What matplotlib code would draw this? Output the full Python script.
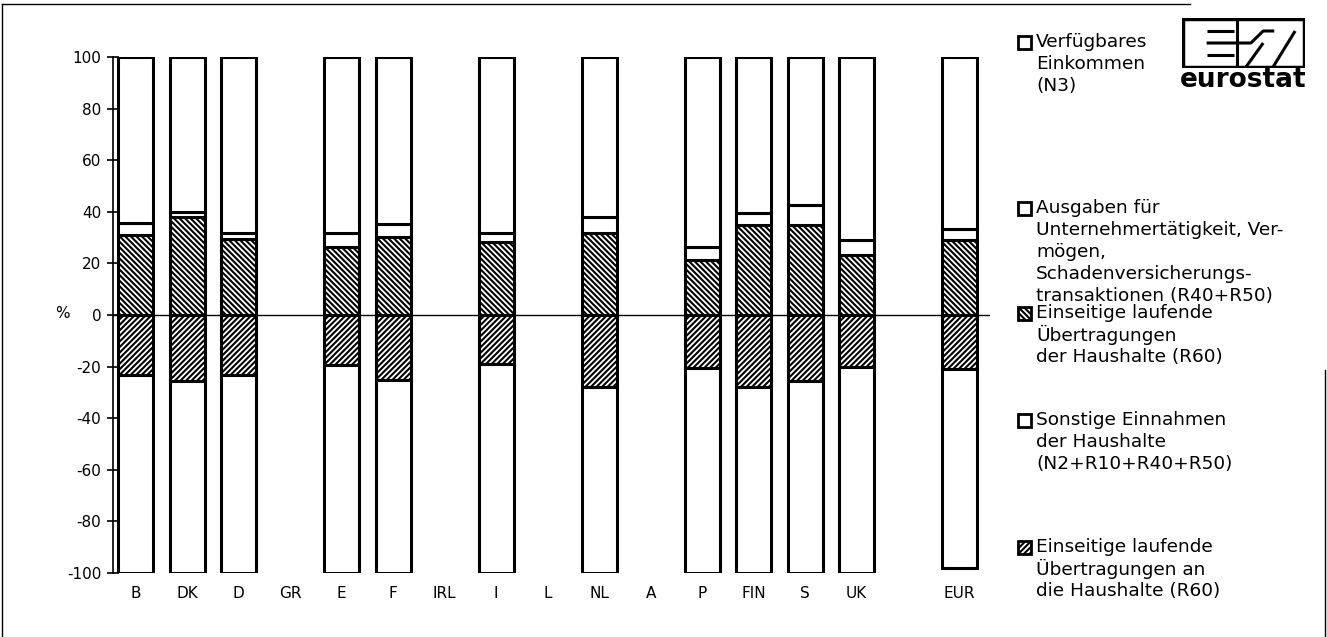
import numpy as np
import matplotlib
matplotlib.use("Agg")
import matplotlib.pyplot as plt
from matplotlib.patches import Rectangle
from matplotlib.lines import Line2D

# === Daten (Anteile in %) ===
countries = ["B", "DK", "D", "GR", "E", "F", "IRL", "I", "L", "NL", "A", "P", "FIN", "S", "UK", "EUR"]
slots = [0, 1, 2, 3, 4, 5, 6, 7, 8, 9, 10, 11, 12, 13, 14, 16]

nan = np.nan
# Verwendung (oben)
r60_paid = [31.0, 38.1, 29.3, nan, 26.5, 30.4, nan, 28.4, nan, 31.7, nan, 21.3, 34.9, 34.9, 23.3, 29.1]
r40_r50 = [4.5, 1.9, 2.6, nan, 5.2, 4.7, nan, 3.5, nan, 6.4, nan, 5.2, 4.5, 7.7, 5.8, 4.1]
n3 = [64.5, 60.0, 68.1, nan, 68.3, 64.9, nan, 68.1, nan, 61.9, nan, 73.5, 60.6, 57.4, 70.9, 66.8]
# Aufkommen (unten)
r60_recv = [23.3, 25.6, 23.3, nan, 19.4, 25.2, nan, 19.0, nan, 27.9, nan, 20.6, 27.9, 25.6, 20.2, 20.9]
other_inc = [76.7, 74.4, 76.7, nan, 80.6, 74.8, nan, 81.0, nan, 72.1, nan, 79.4, 72.1, 74.4, 79.8, 77.1]

yticks = [100, 80, 60, 40, 20, 0, -20, -40, -60, -80, -100]

hatch_paid = "\\" * 6
hatch_recv = "/" * 6

legend_items = [
    (None, ["Verfügbares", "Einkommen", "(N3)"]),
    (None, ["Ausgaben für", "Unternehmertätigkeit, Ver-", "mögen,",
            "Schadenversicherungs-", "transaktionen (R40+R50)"]),
    (hatch_paid, ["Einseitige laufende", "Übertragungen", "der Haushalte (R60)"]),
    (None, ["Sonstige Einnahmen", "der Haushalte", "(N2+R10+R40+R50)"]),
    (hatch_recv, ["Einseitige laufende", "Übertragungen an", "die Haushalte (R60)"]),
]
legend_top = [42, 208, 313, 420, 547]

W, H = 1327, 637
plt.rcParams["font.family"] = ["DejaVu Sans"]
plt.rcParams["hatch.linewidth"] = 1.5


def fx(px):
    return px / W


def fy(py):
    return 1 - py / H


fig = plt.figure(figsize=(W / 100, H / 100), dpi=100)
ax = fig.add_axes([fx(113), fy(573), fx(990) - fx(113), fy(57) - fy(573)])

ok = ~np.isnan(np.array(r60_paid))
x = np.array(slots)[ok]
p60 = np.array(r60_paid)[ok]
p45 = np.array(r40_r50)[ok]
pn3 = np.array(n3)[ok]
m60 = np.array(r60_recv)[ok]
mot = np.array(other_inc)[ok]

bw = 0.68
kw = dict(width=bw, color="white", edgecolor="black", linewidth=2.2, zorder=3)
ax.bar(x, p60, hatch=hatch_paid, **kw)
ax.bar(x, p45, bottom=p60, **kw)
ax.bar(x, pn3, bottom=p60 + p45, **kw)
ax.bar(x, -m60, hatch=hatch_recv, **kw)
ax.bar(x, -mot, bottom=-m60, **kw)

ax.axhline(0, color="black", lw=1.0, zorder=2)

ax.set_xlim(-0.437, 16.59)
ax.set_ylim(-100, 100)
for s in ["top", "right", "bottom"]:
    ax.spines[s].set_visible(False)
ax.spines["left"].set_linewidth(1.2)
ax.set_yticks(yticks)
ax.set_yticklabels([str(v) for v in yticks], fontsize=11)
ax.tick_params(axis="y", direction="inout", length=9, width=1.2, pad=4)
ax.set_xticks(slots)
ax.set_xticklabels(countries, fontsize=11)
ax.tick_params(axis="x", length=0, pad=9)

fig.text(fx(62), fy(314), "%", fontsize=11, ha="center", va="center")

# === Legende ===
line_h = 22
for (hatch, lines), top in zip(legend_items, legend_top):
    sq = Rectangle((fx(1018), fy(top + 7)), fx(13), fy(0) - fy(13),
                   transform=fig.transFigure, facecolor="white",
                   edgecolor="black", linewidth=2, hatch=hatch)
    fig.add_artist(sq)
    for i, t in enumerate(lines):
        fig.text(fx(1036), fy(top + i * line_h), t, fontsize=13.3, ha="left", va="center")

# === eurostat Logo ===
lax = fig.add_axes([fx(1182), fy(68), fx(123), fy(0) - fy(50)])
lax.set_xlim(0, 1)
lax.set_ylim(0, 1)
lax.axis("off")
lax.add_patch(Rectangle((0.01, 0.02), 0.98, 0.96, fill=False, lw=2.5, edgecolor="black"))
lk = dict(color="black", lw=2.2, solid_capstyle="butt")
lax.plot([0.2, 0.42], [0.74, 0.74], **lk)
lax.plot([0.2, 0.42], [0.26, 0.26], **lk)
lax.plot([0.2, 0.56, 0.66, 0.75], [0.5, 0.5, 0.74, 0.74], **lk)
lax.plot([0.45, 0.45], [0.02, 0.98], **lk)
lax.plot([0.52, 0.66], [0.02, 0.5], **lk)
lax.plot([0.74, 0.92], [0.02, 0.74], **lk)
fig.text(fx(1243), fy(80), "eurostat", fontsize=19, fontweight="bold", ha="center", va="center")

# === Rahmen ===
fig.add_artist(Line2D([fx(2), fx(1190)], [fy(4), fy(4)], color="black", lw=1))
fig.add_artist(Line2D([fx(2), fx(2)], [fy(4), fy(636)], color="black", lw=1))
fig.add_artist(Line2D([fx(1325), fx(1325)], [fy(370), fy(636)], color="black", lw=1))

fig.savefig("out.png", dpi=100)
